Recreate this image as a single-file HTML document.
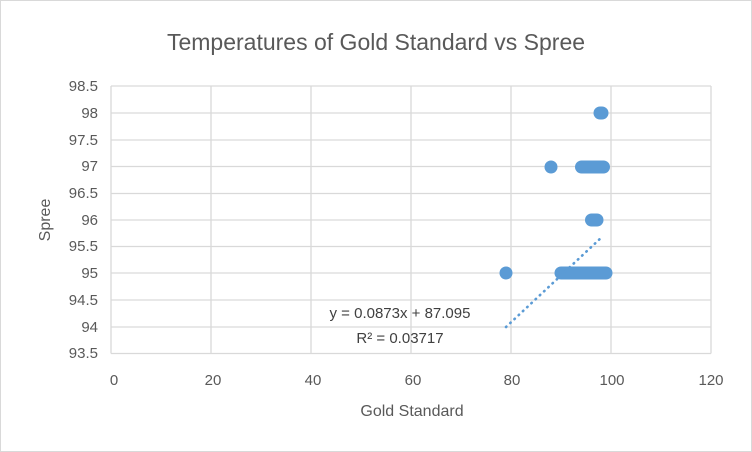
<!DOCTYPE html>
<html><head><style>
body{margin:0;background:#fff}
svg{display:block;font-family:"Liberation Sans",sans-serif}
</style></head><body>
<svg width="752" height="452" viewBox="0 0 752 452">
<rect x="0.5" y="0.5" width="751" height="451" fill="#fff" stroke="#d9d9d9"/>
<text x="376" y="50" text-anchor="middle" font-size="23" fill="#595959">Temperatures  of Gold Standard vs Spree</text>
<g stroke="#d9d9d9" stroke-width="1.3">
<line x1="111" y1="86" x2="711" y2="86"/><line x1="111" y1="113" x2="711" y2="113"/>
<line x1="111" y1="140" x2="711" y2="140"/><line x1="111" y1="166.5" x2="711" y2="166.5"/>
<line x1="111" y1="193.5" x2="711" y2="193.5"/><line x1="111" y1="220" x2="711" y2="220"/>
<line x1="111" y1="246.5" x2="711" y2="246.5"/><line x1="111" y1="273" x2="711" y2="273"/>
<line x1="111" y1="300" x2="711" y2="300"/><line x1="111" y1="327" x2="711" y2="327"/>
<line x1="111" y1="353.5" x2="711" y2="353.5"/>
<line x1="111" y1="86" x2="111" y2="353.5"/><line x1="211" y1="86" x2="211" y2="353.5"/>
<line x1="311" y1="86" x2="311" y2="353.5"/><line x1="411" y1="86" x2="411" y2="353.5"/>
<line x1="511" y1="86" x2="511" y2="353.5"/><line x1="611" y1="86" x2="611" y2="353.5"/>
<line x1="711" y1="86" x2="711" y2="353.5"/>
</g>
<g font-size="15" fill="#595959" text-anchor="end">
<text x="98" y="91">98.5</text><text x="98" y="118">98</text><text x="98" y="145">97.5</text>
<text x="98" y="171">97</text><text x="98" y="198">96.5</text><text x="98" y="225">96</text>
<text x="98" y="251">95.5</text><text x="98" y="278">95</text><text x="98" y="305">94.5</text>
<text x="98" y="332">94</text><text x="98" y="358">93.5</text>
</g>
<g font-size="15" fill="#595959" text-anchor="middle">
<text x="114" y="385">0</text><text x="213" y="385">20</text><text x="313" y="385">40</text>
<text x="413" y="385">60</text><text x="512" y="385">80</text><text x="612" y="385">100</text>
<text x="711" y="385">120</text>
<text x="412" y="416" font-size="16">Gold Standard</text>
</g>
<text transform="translate(50,220) rotate(-90)" font-size="16" fill="#595959" text-anchor="middle">Spree</text>
<g fill="#5b9bd5" stroke="#5b9bd5">
<line x1="600" y1="113" x2="602" y2="113" stroke-width="13" stroke-linecap="round"/>
<circle cx="551" cy="167" r="6.5" stroke="none"/>
<line x1="581.5" y1="167" x2="603.5" y2="167" stroke-width="13" stroke-linecap="round"/>
<line x1="591.5" y1="220" x2="597" y2="220" stroke-width="13" stroke-linecap="round"/>
<circle cx="506" cy="273" r="6.5" stroke="none"/>
<line x1="561" y1="273" x2="606" y2="273" stroke-width="13" stroke-linecap="round"/>
</g>
<line x1="506" y1="327" x2="603" y2="236" stroke="#5b9bd5" stroke-width="2.6" stroke-dasharray="0.5 5.3" stroke-linecap="round"/>
<g font-size="15" fill="#404040" text-anchor="middle">
<text x="400" y="318">y = 0.0873x + 87.095</text>
<text x="400" y="343">R² = 0.03717</text>
</g>
</svg>
</body></html>
